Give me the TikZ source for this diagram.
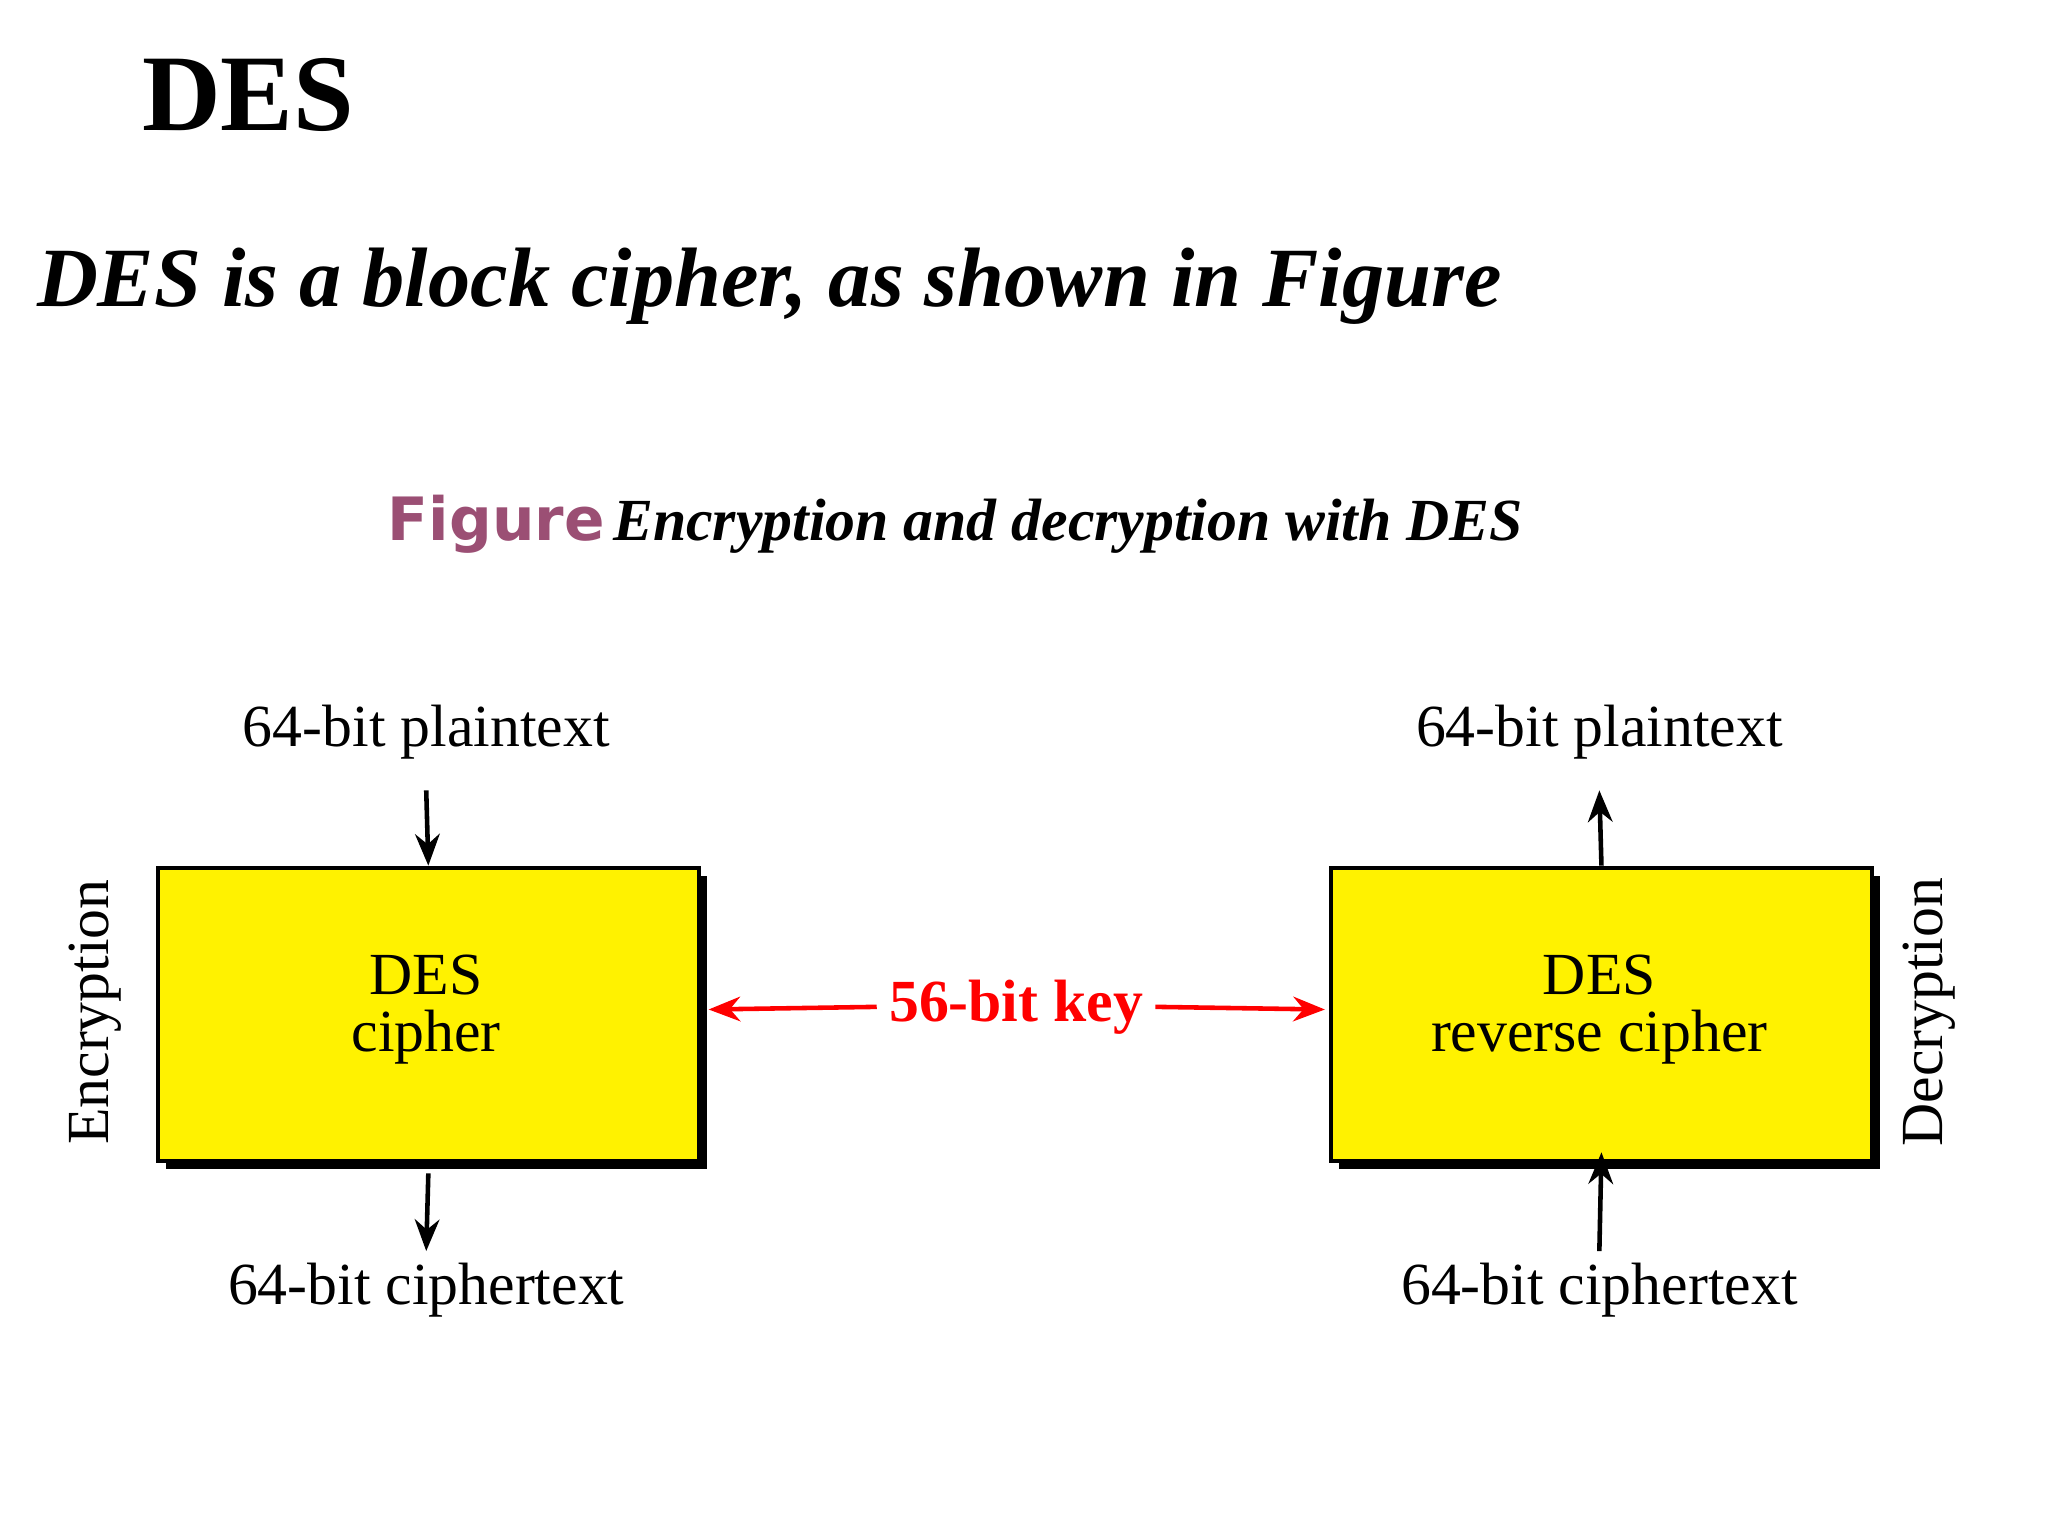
\documentclass[tikz,border=0pt]{standalone}
\usepackage{fontspec}
\setmainfont{Liberation Serif}
\newfontfamily\figsans{DejaVu Sans}
\usetikzlibrary{arrows.meta}
\definecolor{figc}{HTML}{9B4F74}
\begin{document}
\begin{tikzpicture}[x=0.0132cm,y=-0.0132cm,
  box/.style={draw=black,line width=1.2pt,fill=yellow},
  shad/.style={fill=black},
  lbl/.style={font=\fontsize{17}{19}\selectfont},
  arr/.style={line width=1.3pt,-{Stealth[length=9pt,width=7pt]}},
  karr/.style={red,line width=1.3pt,-{Stealth[length=9pt,width=7pt]}}]
\useasboundingbox (0,0) rectangle (1552,1164);
\node (title) at (188,72) {\fontsize{31}{34}\selectfont\bfseries DES};
\node (sub) at (583,217) {\fontsize{24}{28}\selectfont\bfseries\itshape DES is a block cipher, as shown in Figure};
\node (cap) at (724,397) {{\figsans\fontsize{17}{20}\selectfont\bfseries\color{figc}Figure} \fontsize{17}{20}\selectfont\bfseries\itshape Encryption and decryption with DES};
% left box
\fill[shad] (126,664) rectangle (536,886);
\node[box,minimum width=410*0.0132cm,minimum height=222*0.0132cm,anchor=north west,inner sep=0] (enc) at (118,656) {};
\node[lbl,align=center] (enct) at (323,765) {DES\\[-3pt]cipher};
% right box
\fill[shad] (1015,664) rectangle (1425,886);
\node[box,minimum width=410*0.0132cm,minimum height=222*0.0132cm,anchor=north west,inner sep=0] (dec) at (1007,656) {};
\node[lbl,align=center] (dect) at (1212,765) {DES\\[-3pt]reverse cipher};
% labels
\node[lbl] (p1) at (323,555) {64-bit plaintext};
\node[lbl] (c1) at (323,978) {64-bit ciphertext};
\node[lbl] (p2) at (1212,555) {64-bit plaintext};
\node[lbl] (c2) at (1212,978) {64-bit ciphertext};
\node[lbl,rotate=90] (e) at (72,767) {Encryption};
\node[lbl,rotate=90] (d) at (1462,767) {Decryption};
\node[lbl,red,font=\fontsize{17}{19}\selectfont\bfseries] (key) at (770,763) {56-bit key};
% arrows
\draw[arr] (p1.south) ++(0,14) -- (enc.north);
\draw[arr] (enc.south) ++(0,8) -- (c1.north);
\draw[arr] (dec.north) -- ([yshift=14*-0.0132cm]p2.south);
\draw[arr] (c2.north) -- ([yshift=-8*-0.0132cm]dec.south);
\coordinate (kl) at (537,765);
\coordinate (kr) at (1004,765);
\draw[karr] (key.west) -- (kl);
\draw[karr] (key.east) -- (kr);
\end{tikzpicture}
\end{document}
